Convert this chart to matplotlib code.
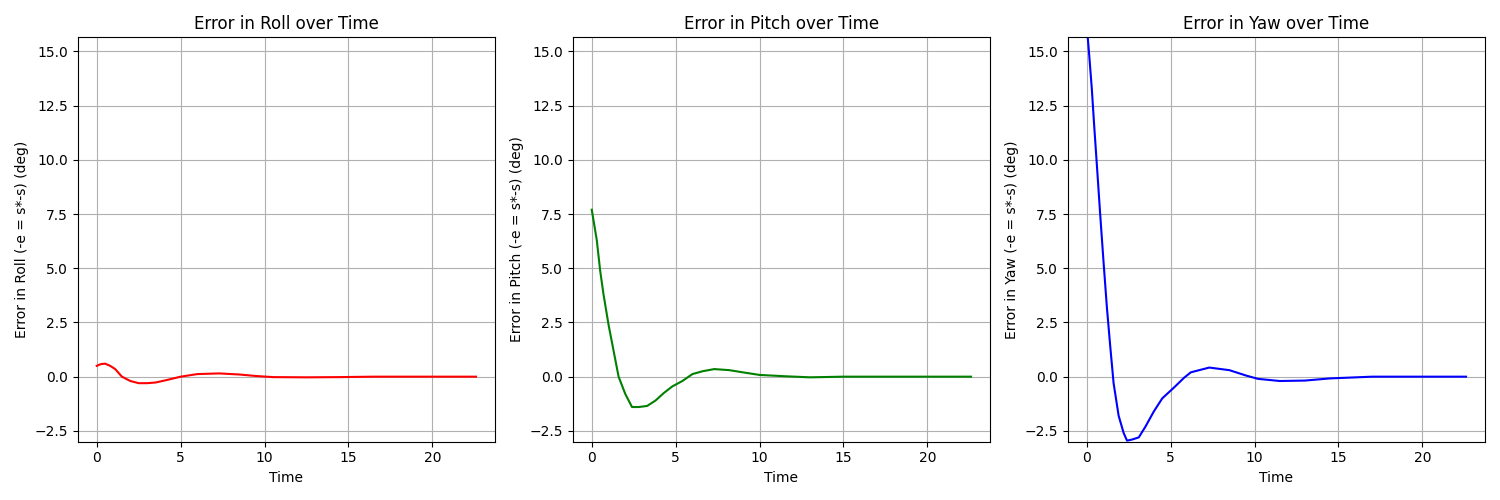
import matplotlib
matplotlib.use("Agg")
import matplotlib.pyplot as plt

roll_t = [0, 0.25, 0.5, 0.8, 1.1, 1.5, 2.0, 2.5, 3.0, 3.5, 4.2, 5.0, 6.0, 7.3, 8.5, 9.5, 10.5, 12.5, 14.5, 16.5, 22.6]
roll_v = [0.5, 0.58, 0.6, 0.5, 0.35, 0.0, -0.2, -0.3, -0.3, -0.27, -0.15, 0.0, 0.12, 0.15, 0.1, 0.03, -0.02, -0.03, -0.02, 0.0, 0.0]

pitch_t = [0, 0.15, 0.3, 0.5, 0.7, 1.0, 1.3, 1.6, 2.0, 2.4, 2.8, 3.3, 3.8, 4.3, 4.8, 5.4, 6.0, 6.6, 7.3, 8.2, 9.0, 10.0, 11.5, 13.0, 15.0, 22.6]
pitch_v = [7.7, 7.0, 6.3, 4.9, 3.8, 2.4, 1.2, 0.0, -0.8, -1.4, -1.4, -1.35, -1.1, -0.75, -0.45, -0.2, 0.12, 0.25, 0.35, 0.3, 0.2, 0.08, 0.02, -0.03, 0.0, 0.0]

yaw_t = [0, 0.15, 0.3, 0.45, 0.6, 0.8, 1.0, 1.2, 1.4, 1.6, 1.9, 2.2, 2.4, 2.7, 3.1, 3.5, 4.0, 4.5, 5.2, 5.8, 6.2, 6.8, 7.3, 8.5, 9.5, 10.2, 11.5, 13.0, 14.5, 17.0, 22.6]
yaw_v = [16.2, 14.8, 13.3, 11.5, 9.8, 7.5, 5.3, 3.2, 1.4, -0.3, -1.8, -2.6, -2.95, -2.9, -2.8, -2.3, -1.6, -1.0, -0.5, -0.05, 0.2, 0.32, 0.42, 0.3, 0.05, -0.1, -0.2, -0.18, -0.08, 0.0, 0.0]

fig, axes = plt.subplots(1, 3, figsize=(15, 5), dpi=100)
specs = [("Roll", roll_t, roll_v, "red"), ("Pitch", pitch_t, pitch_v, "green"), ("Yaw", yaw_t, yaw_v, "blue")]
for ax, (name, t, v, c) in zip(axes, specs):
    ax.plot(t, v, color=c)
    ax.set_title(f"Error in {name} over Time")
    ax.set_xlabel("Time")
    ax.set_ylabel(f"Error in {name} (-e = s*-s) (deg)")
    ax.set_ylim(-3.0, 15.65)
    ax.set_xlim(-1.13, 23.73)
    ax.grid(True)
fig.tight_layout()
fig.savefig("out.png")
